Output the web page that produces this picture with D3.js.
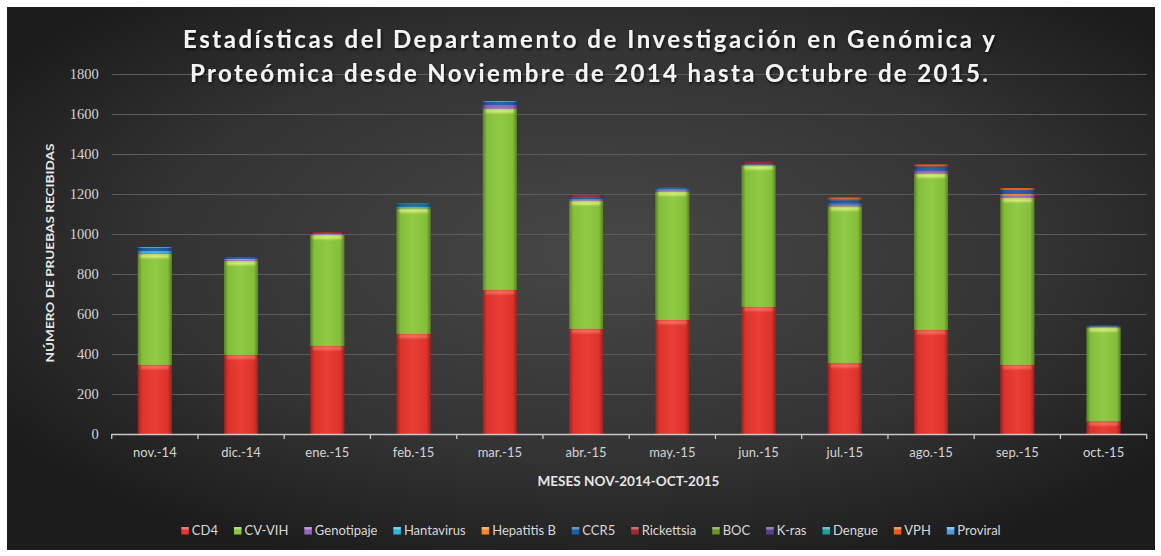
<!DOCTYPE html>
<html>
<head>
<meta charset="utf-8">
<script src="https://cdn.jsdelivr.net/npm/d3@7"></script>
<style>
  body { margin: 0; background: #ffffff; }
  svg { display: block; }
</style>
</head>
<body>
<svg id="chart" width="1161" height="556"></svg>
<script>
// Monthly test counts received by the department, Nov 2014 - Oct 2015
const months = ["nov.-14", "dic.-14", "ene.-15", "feb.-15", "mar.-15", "abr.-15",
                "may.-15", "jun.-15", "jul.-15", "ago.-15", "sep.-15", "oct.-15"];

const seriesNames = ["CD4", "CV-VIH", "Genotipaje", "Hantavirus", "Hepatitis B", "CCR5",
                     "Rickettsia", "BOC", "K-ras", "Dengue", "VPH", "Proviral"];

const cd4        = [345, 395, 440, 500, 720, 525, 570, 635, 353, 520, 345, 62];
const cvVih      = [555, 470, 555, 628, 905, 640, 642, 708, 785, 783, 835, 471];
const genotipaje = [5, 5, 5, 0, 20, 10, 10, 5, 10, 15, 10, 5];
const hantavirus = [10, 0, 0, 10, 0, 0, 5, 0, 5, 0, 5, 0];
const hepatitisB = [0, 5, 0, 0, 0, 0, 0, 0, 0, 0, 5, 0];
const ccr5       = [15, 10, 5, 10, 15, 10, 7, 5, 10, 20, 20, 5];
const rickettsia = [0, 0, 5, 0, 0, 10, 0, 7, 0, 0, 0, 0];
const boc        = [0, 0, 0, 0, 0, 0, 0, 0, 0, 0, 0, 0];
const kras       = [0, 0, 0, 0, 0, 0, 0, 0, 5, 0, 0, 0];
const dengue     = [0, 0, 0, 5, 0, 0, 0, 0, 5, 0, 0, 0];
const vph        = [0, 0, 0, 0, 0, 0, 0, 0, 10, 10, 10, 0];
const proviral   = [5, 0, 0, 0, 5, 0, 0, 0, 0, 0, 0, 0];

const yTicks = [0, 200, 400, 600, 800, 1000, 1200, 1400, 1600, 1800];

const seriesValues = [cd4, cvVih, genotipaje, hantavirus, hepatitisB, ccr5,
                      rickettsia, boc, kras, dengue, vph, proviral];
const seriesColors = ["#e8352d", "#8bc83c", "#9464c4", "#2cb6dc", "#f28a26", "#1f5ea8",
                      "#a8262a", "#6b9424", "#5e3f90", "#17a1a6", "#ec5a1a", "#4d9fe4"];

// Table for d3.stack: one row per month
const rows = months.map((m, i) => {
  const r = { month: m };
  seriesNames.forEach((s, k) => { r[s] = seriesValues[k][i]; });
  return r;
});

const svg = d3.select("#chart");
const defs = svg.append("defs");

// Panel background: dark charcoal with a soft lighter centre
const bg = defs.append("radialGradient").attr("id", "bgGrad")
  .attr("cx", "52%").attr("cy", "45%").attr("r", "62%");
bg.append("stop").attr("offset", "0%").attr("stop-color", "#474747");
bg.append("stop").attr("offset", "60%").attr("stop-color", "#343434");
bg.append("stop").attr("offset", "100%").attr("stop-color", "#1c1c1c");

svg.append("rect").attr("x", 7).attr("y", 7).attr("width", 1148).attr("height", 543)
  .attr("fill", "url(#bgGrad)");

// Side shading for the bars (slight cylinder look)
const side = defs.append("linearGradient").attr("id", "sideShade")
  .attr("x1", "0%").attr("x2", "100%").attr("y1", "0%").attr("y2", "0%");
side.append("stop").attr("offset", "0%").attr("stop-color", "#000").attr("stop-opacity", 0.35);
side.append("stop").attr("offset", "12%").attr("stop-color", "#000").attr("stop-opacity", 0.05);
side.append("stop").attr("offset", "50%").attr("stop-color", "#fff").attr("stop-opacity", 0.04);
side.append("stop").attr("offset", "88%").attr("stop-color", "#000").attr("stop-opacity", 0.05);
side.append("stop").attr("offset", "100%").attr("stop-color", "#000").attr("stop-opacity", 0.35);

const glow = defs.append("filter").attr("id", "soft").attr("x", "-20%").attr("y", "-50%")
  .attr("width", "140%").attr("height", "200%");
glow.append("feGaussianBlur").attr("stdDeviation", 0.8);

const titleShadow = defs.append("filter").attr("id", "titleShadow")
  .attr("x", "-5%").attr("y", "-30%").attr("width", "110%").attr("height", "160%");
titleShadow.append("feDropShadow").attr("dx", 1).attr("dy", 1.5)
  .attr("stdDeviation", 1.5).attr("flood-color", "#000").attr("flood-opacity", 0.8);

// Scales
const x0 = 111.7, x1 = 1146.7;
const x = d3.scaleBand().domain(months).range([x0, x1])
  .paddingInner(0.606).paddingOuter(0.303);
const y = d3.scaleLinear().domain([0, 1800]).range([434, 74]);

// Gridlines
svg.append("g").selectAll("line").data(yTicks.filter(t => t > 0)).join("line")
  .attr("x1", x0).attr("x2", x1)
  .attr("y1", d => y(d) + 0.5).attr("y2", d => y(d) + 0.5)
  .attr("stroke", "#5c5c5c").attr("stroke-width", 1);

// Y axis labels
const yAxis = svg.append("g").attr("transform", `translate(${x0},0)`)
  .call(d3.axisLeft(y).tickValues(yTicks).tickFormat(d3.format("d"))
    .tickSize(0).tickPadding(13));
yAxis.attr("font-family", "'Liberation Serif', 'DejaVu Serif', serif").attr("font-size", 14.5);
yAxis.select(".domain").remove();
yAxis.selectAll("text").attr("fill", "#d4d4d4");

// Stacked bars
const stack = d3.stack().keys(seriesNames);
const layers = stack(rows);

const barG = svg.append("g");
layers.forEach((layer, k) => {
  barG.append("g").selectAll("rect").data(layer.filter(d => d[1] > d[0])).join("rect")
    .attr("x", d => x(d.data.month))
    .attr("y", d => y(d[1]))
    .attr("width", x.bandwidth())
    .attr("height", d => y(d[0]) - y(d[1]))
    .attr("fill", seriesColors[k]);
});

// Light strip on top of the two main segments
const hiColors = { "CD4": "#f6735f", "CV-VIH": "#e0f27e" };
["CD4", "CV-VIH"].forEach(name => {
  const layer = layers[seriesNames.indexOf(name)];
  barG.append("g").selectAll("rect").data(layer.filter(d => d[1] > d[0])).join("rect")
    .attr("x", d => x(d.data.month) + 2)
    .attr("y", d => y(d[1]) + 0.5)
    .attr("width", x.bandwidth() - 4)
    .attr("height", 3.5)
    .attr("rx", 1.5)
    .attr("fill", hiColors[name])
    .attr("opacity", 0.9)
    .attr("filter", "url(#soft)");
});

// Side shading overlay over each full column
barG.append("g").selectAll("rect").data(rows).join("rect")
  .attr("x", d => x(d.month))
  .attr("y", d => y(d3.sum(seriesNames, s => d[s])))
  .attr("width", x.bandwidth())
  .attr("height", d => y(0) - y(d3.sum(seriesNames, s => d[s])))
  .attr("fill", "url(#sideShade)");

// X axis: line, category-boundary ticks, labels
const step = x.step();
const boundaries = months.map(m => x(m) - (step - x.bandwidth()) / 2).concat([x1]);
const axisG = svg.append("g");
axisG.append("line").attr("x1", x0).attr("x2", x1).attr("y1", 434.5).attr("y2", 434.5)
  .attr("stroke", "#c8c8c8").attr("stroke-width", 1.3);
axisG.selectAll("line.tick").data(boundaries).join("line").attr("class", "tick")
  .attr("x1", d => d).attr("x2", d => d).attr("y1", 434).attr("y2", 439)
  .attr("stroke", "#c8c8c8").attr("stroke-width", 1.3);

const xAxis = svg.append("g").attr("transform", "translate(0,434)")
  .call(d3.axisBottom(x).tickSize(0).tickPadding(14));
xAxis.attr("font-family", "Lato, 'Open Sans', sans-serif").attr("font-size", 13);
xAxis.select(".domain").remove();
xAxis.selectAll("text").attr("fill", "#d4d4d4");

// Axis titles
svg.append("text")
  .attr("transform", "translate(54,253) rotate(-90)")
  .attr("text-anchor", "middle")
  .attr("fill", "#e6e6e6")
  .style("font-family", "Lato, 'Open Sans', sans-serif")
  .style("font-weight", "700")
  .style("font-size", "12px")
  .attr("textLength", 219).attr("lengthAdjust", "spacingAndGlyphs")
  .text("NÚMERO DE PRUEBAS RECIBIDAS");

svg.append("text")
  .attr("x", 628.5).attr("y", 485.5)
  .attr("text-anchor", "middle")
  .attr("fill", "#e6e6e6")
  .style("font-family", "Lato, 'Open Sans', sans-serif")
  .style("font-weight", "700")
  .style("font-size", "12.5px")
  .attr("textLength", 182).attr("lengthAdjust", "spacingAndGlyphs")
  .text("MESES NOV-2014-OCT-2015");

// Title
const titleLines = [
  "Estadísticas del Departamento de Investigación en Genómica y",
  "Proteómica desde Noviembre de 2014 hasta Octubre de 2015."
];
const titleWidths = [812, 798];
svg.append("g").attr("filter", "url(#titleShadow)")
  .selectAll("text").data(titleLines).join("text")
  .attr("x", 589)
  .attr("y", (d, i) => 48 + i * 33.5)
  .attr("text-anchor", "middle")
  .attr("fill", "#f4f4f4")
  .style("font-family", "Lato, 'Open Sans', sans-serif")
  .style("font-weight", "700")
  .style("font-size", "24px")
  .attr("textLength", (d, i) => titleWidths[i])
  .attr("lengthAdjust", "spacing")
  .text(d => d);

// Legend
const legend = svg.append("g");
const items = legend.selectAll("g").data(seriesNames).join("g");
items.append("rect")
  .attr("width", 7.5).attr("height", 7.5).attr("y", -8)
  .attr("fill", (d, i) => seriesColors[i]);
items.append("rect")
  .attr("width", 7.5).attr("height", 2.5).attr("y", -8)
  .attr("fill", "#fff").attr("opacity", 0.35);
items.append("text")
  .attr("x", 10.5).attr("y", 0)
  .attr("fill", "#d8d8d8")
  .style("font-family", "Lato, 'Open Sans', sans-serif")
  .style("font-size", "13px")
  .text(d => d);

const gap = 16;
let widths = [];
items.each(function() {
  widths.push(10.5 + this.querySelector("text").getComputedTextLength());
});
const total = d3.sum(widths) + gap * (widths.length - 1);
let cursor = 591 - total / 2;
items.attr("transform", (d, i) => {
  const t = `translate(${cursor},535)`;
  cursor += widths[i] + gap;
  return t;
});
</script>
</body>
</html>
